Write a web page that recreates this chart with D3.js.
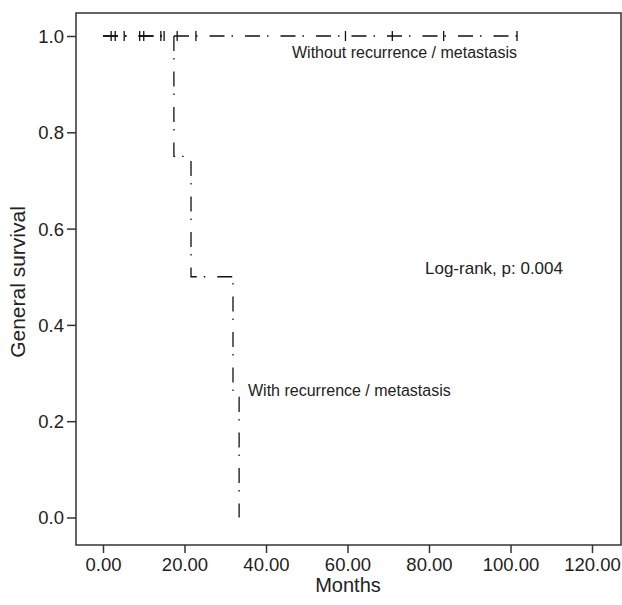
<!DOCTYPE html>
<html><head><meta charset="utf-8">
<script src="https://cdn.jsdelivr.net/npm/d3@7"></script>
<style>body{margin:0;background:#fff}svg{display:block}text{font-family:"Liberation Sans",Arial,sans-serif;fill:#222}</style>
</head><body>
<script>
const xTicks = [0, 20, 40, 60, 80, 100, 120];
const yTicks = [0, 0.2, 0.4, 0.6, 0.8, 1.0];
// Without recurrence: survival stays 1.0; censored times
const withoutEnd = 102;
const withoutCensor = [2, 3, 5.2, 9, 10, 14.2, 15, 18.2, 22.8, 59.5, 71, 83.6, 101.6];
// With recurrence: event times and survival after each step
const withTimes = [0, 17.4, 21.6, 31.9, 33.4];
const withSurv = [1.0, 0.75, 0.5, 0.25, 0.0];

const W = 622, H = 605;
const FONT = '"Liberation Sans",Arial,sans-serif';
const svg = d3.select("body").append("svg").attr("width", W).attr("height", H);
const x = d3.scaleLinear().domain([0, 120]).range([103, 592]);
const y = d3.scaleLinear().domain([0, 1]).range([517.5, 36]);
const box = {l: 76, r: 621, t: 13, b: 545};

svg.append("rect").attr("x", box.l).attr("y", box.t).attr("width", box.r - box.l).attr("height", box.b - box.t)
  .attr("fill", "none").attr("stroke", "#333").attr("stroke-width", 1.5);

const xa = svg.append("g").attr("transform", `translate(0,${box.b})`)
  .call(d3.axisBottom(x).tickValues(xTicks).tickFormat(d3.format(".2f")).tickSize(8).tickSizeOuter(0));
xa.select(".domain").remove();
xa.selectAll("line").attr("stroke", "#333").attr("stroke-width", 1.5);
xa.selectAll("text").attr("font-size", 18.5).attr("y", 11).attr("dy", "15px").style("font-family", FONT).attr("fill", "#222");

const ya = svg.append("g").attr("transform", `translate(${box.l},0)`)
  .call(d3.axisLeft(y).tickValues(yTicks).tickFormat(d3.format(".1f")).tickSize(9).tickSizeOuter(0));
ya.select(".domain").remove();
ya.selectAll("line").attr("stroke", "#333").attr("stroke-width", 1.5);
ya.selectAll("text").attr("font-size", 18.5).attr("x", -12).attr("dy", "0.35em").style("font-family", FONT).attr("fill", "#222");

const dash = "15,7,1.5,12";
// Without curve
svg.append("line").attr("x1", x(0)).attr("x2", x(withoutEnd)).attr("y1", y(1)).attr("y2", y(1))
  .attr("stroke", "#111").attr("stroke-width", 1.3).attr("stroke-dasharray", dash);
svg.selectAll(".cens").data(withoutCensor).enter().append("line")
  .attr("x1", d => x(d)).attr("x2", d => x(d)).attr("y1", y(1) - 5).attr("y2", y(1) + 5)
  .attr("stroke", "#111").attr("stroke-width", 1.3);

// With curve (step)
const pts = [];
for (let i = 0; i < withTimes.length; i++) {
  if (i > 0) pts.push([withTimes[i], withSurv[i - 1]]);
  pts.push([withTimes[i], withSurv[i]]);
}
svg.append("path").attr("d", d3.line().x(d => x(d[0])).y(d => y(d[1]))(pts))
  .attr("fill", "none").attr("stroke", "#111").attr("stroke-width", 1.3).attr("stroke-dasharray", dash);

svg.append("text").attr("x", 292).attr("y", 58).attr("font-size", 16).text("Without recurrence / metastasis");
svg.append("text").attr("x", 425).attr("y", 274).attr("font-size", 17).text("Log-rank, p: 0.004");
svg.append("text").attr("x", 248).attr("y", 396).attr("font-size", 16).text("With recurrence / metastasis");
svg.append("text").attr("x", 348).attr("y", 592).attr("font-size", 20).attr("text-anchor", "middle").text("Months");
svg.append("text").attr("transform", "translate(25,282) rotate(-90)").attr("font-size", 21).attr("text-anchor", "middle").text("General survival");
</script>
</body></html>
